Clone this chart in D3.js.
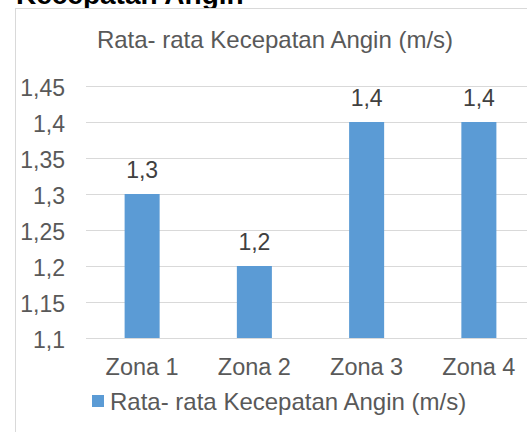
<!DOCTYPE html>
<html>
<head>
<meta charset="utf-8">
<script src="https://cdn.jsdelivr.net/npm/d3@7"></script>
<style>
  html, body { margin: 0; padding: 0; background: #fff; overflow: hidden; }
  svg { display: block; font-family: "Liberation Sans", Arial, sans-serif; }
</style>
</head>
<body>
<div id="chart"></div>
<script>
// data
const zones = ['Zona 1', 'Zona 2', 'Zona 3', 'Zona 4'];
const speeds = [1.3, 1.2, 1.4, 1.4];
const yTicks = [1.1, 1.15, 1.2, 1.25, 1.3, 1.35, 1.4, 1.45];
const seriesName = 'Rata- rata Kecepatan Angin (m/s)';
const headingText = 'Kecepatan Angin';

const width = 527, height = 432;
const fmt = v => d3.format('')(v).replace('.', ',');

const svg = d3.select('#chart').append('svg')
    .attr('width', width).attr('height', height);

svg.append('rect').attr('width', width).attr('height', height).attr('fill', '#fff');

// heading from the surrounding document, cut off at the top
svg.append('text')
    .attr('x', 16).attr('y', 4)
    .attr('font-size', 28).attr('font-weight', 'bold')
    .attr('fill', '#000')
    .text(headingText);

// chart area border (runs off the right and bottom)
svg.append('rect')
    .attr('x', 15.5).attr('y', 8.5)
    .attr('width', 540).attr('height', 460)
    .attr('fill', '#fff').attr('stroke', '#d9d9d9').attr('stroke-width', 1);

svg.append('text')
    .attr('x', 275).attr('y', 48)
    .attr('text-anchor', 'middle')
    .attr('font-size', 24).attr('fill', '#595959')
    .text(seriesName);

const x = d3.scaleBand().domain(zones).range([86, 535])
    .paddingInner(0.688).paddingOuter(0.344);
const y = d3.scaleLinear().domain([1.1, 1.45]).range([338, 86]);

// gridlines
svg.append('g').selectAll('line').data(yTicks.slice(1)).join('line')
    .attr('x1', 86).attr('x2', width + 10)
    .attr('y1', d => Math.round(y(d)) + 0.5).attr('y2', d => Math.round(y(d)) + 0.5)
    .attr('stroke', '#d9d9d9').attr('stroke-width', 1);

// y labels
svg.append('g').selectAll('text').data(yTicks).join('text')
    .attr('x', 65).attr('y', d => y(d) + 10)
    .attr('text-anchor', 'end')
    .attr('font-size', 23).attr('fill', '#595959')
    .text(fmt);

// bars
svg.append('g').selectAll('rect').data(speeds).join('rect')
    .attr('x', (d, i) => x(zones[i]))
    .attr('y', d => y(d))
    .attr('width', x.bandwidth())
    .attr('height', d => y(1.1) - y(d))
    .attr('fill', '#5b9bd5');

// data labels
svg.append('g').selectAll('text').data(speeds).join('text')
    .attr('x', (d, i) => x(zones[i]) + x.bandwidth() / 2)
    .attr('y', d => y(d) - 16)
    .attr('text-anchor', 'middle')
    .attr('font-size', 23).attr('fill', '#404040')
    .text(fmt);

// x axis line
svg.append('line')
    .attr('x1', 86).attr('x2', width + 10)
    .attr('y1', 338.5).attr('y2', 338.5)
    .attr('stroke', '#d9d9d9').attr('stroke-width', 1);

// x labels
svg.append('g').selectAll('text').data(zones).join('text')
    .attr('x', d => x(d) + x.bandwidth() / 2)
    .attr('y', 375)
    .attr('text-anchor', 'middle')
    .attr('font-size', 23.5).attr('fill', '#595959')
    .text(d => d);

// legend
svg.append('rect')
    .attr('x', 92).attr('y', 395).attr('width', 12).attr('height', 12)
    .attr('fill', '#5b9bd5');
svg.append('text')
    .attr('x', 110).attr('y', 410)
    .attr('font-size', 24).attr('fill', '#595959')
    .text(seriesName);
</script>
</body>
</html>
